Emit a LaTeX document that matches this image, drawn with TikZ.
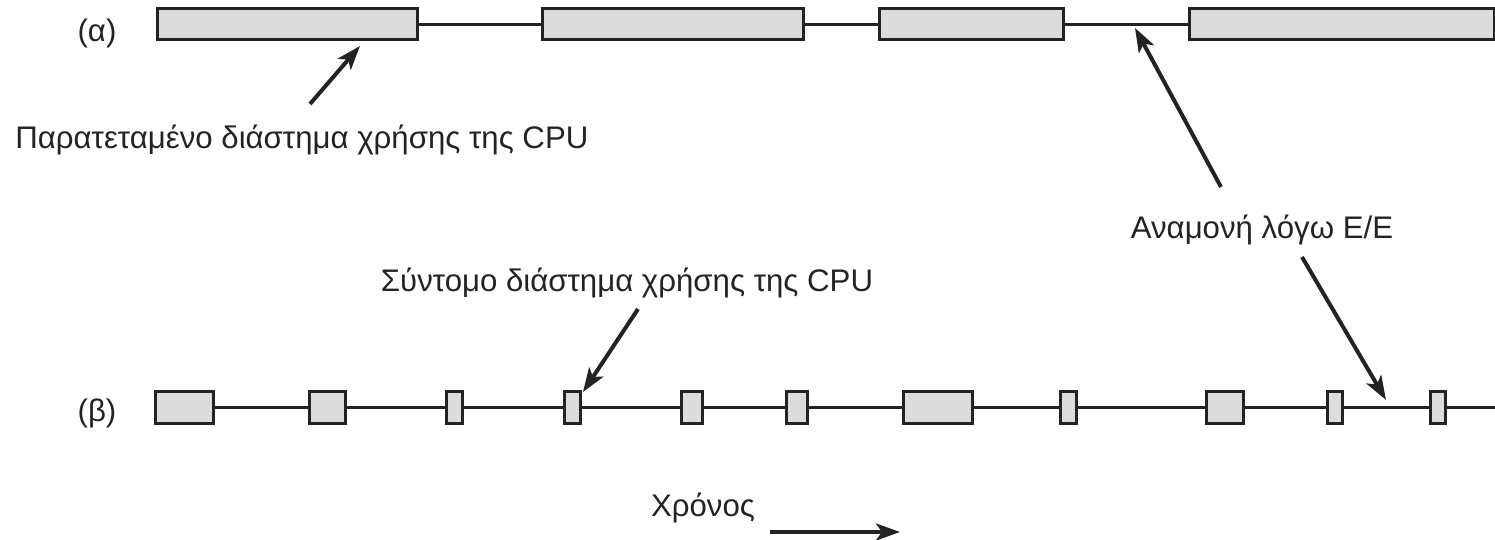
\documentclass[tikz,border=0pt]{standalone}
\usepackage{fontspec}
\setmainfont{Liberation Sans}
\usetikzlibrary{arrows.meta}
\definecolor{boxfill}{HTML}{DCDCDC}
\definecolor{ink}{HTML}{232323}
\begin{document}
\begin{tikzpicture}[x=0.5pt,y=-0.5pt,
  burst/.style={draw=ink, fill=boxfill, line width=1.5pt, inner sep=0pt, outer sep=0pt},
  aburst/.style={burst, minimum height=15.5pt},
  bburst/.style={burst, minimum height=16pt},
  wait/.style={draw=ink, line width=1.3pt},
  annot/.style={draw=ink, line width=2pt, -{Stealth[length=12pt,width=8.5pt,inset=3pt]}},
  lbl/.style={text=ink, inner sep=0pt, font=\fontsize{15.6}{18}\selectfont}]
\useasboundingbox (0,0) rectangle (1495,540);
% row (a)
\node[aburst, minimum width=130pt]   (a1) at (287,24.5) {};
\node[aburst, minimum width=130.5pt] (a2) at (672.5,24.5) {};
\node[aburst, minimum width=92pt]    (a3) at (971,24.5) {};
\node[aburst, minimum width=152.5pt] (a4) at (1341.5,24.5) {};
\draw[wait] (a1.east) -- (a2.west);
\draw[wait] (a2.east) -- (a3.west);
\draw[wait] (a3.east) -- (a4.west);
% row (b)
\node[bburst, minimum width=29pt]   (b1) at (184,407.5) {};
\node[bburst, minimum width=18pt]   (b2) at (327,407.5) {};
\node[bburst, minimum width=8pt]    (b3) at (454,407.5) {};
\node[bburst, minimum width=8pt]    (b4) at (572,407.5) {};
\node[bburst, minimum width=10.5pt] (b5) at (691.5,407.5) {};
\node[bburst, minimum width=10.5pt] (b6) at (796.5,407.5) {};
\node[bburst, minimum width=34.5pt] (b7) at (937.5,407.5) {};
\node[bburst, minimum width=8pt]    (b8) at (1068,407.5) {};
\node[bburst, minimum width=18.5pt] (b9) at (1224.5,407.5) {};
\node[bburst, minimum width=7.5pt]  (b10) at (1334.5,407.5) {};
\node[bburst, minimum width=7.5pt]  (b11) at (1437.5,407.5) {};
\coordinate (bend) at (1495,407.5);
\foreach \i/\j in {b1/b2,b2/b3,b3/b4,b4/b5,b5/b6,b6/b7,b7/b8,b8/b9,b9/b10,b10/b11}
  \draw[wait] (\i.east) -- (\j.west);
\draw[wait] (b11.east) -- (bend);
% labels
\node[lbl] (la) at (97,33) {(α)};
\node[lbl] (lb) at (97,413) {(β)};
\node[lbl, anchor=west] (t1) at (15,140) {Παρατεταμένο διάστημα χρήσης της CPU};
\node[lbl] (t2) at (1262,230) {Αναμονή λόγω Ε/Ε};
\node[lbl] (t3) at (627,283) {Σύντομο διάστημα χρήσης της CPU};
\node[lbl] (t4) at (703,508) {Χρόνος};
% annotation arrows
\coordinate (p1s) at (310,104);
\coordinate (p1e) at (360,46);
\coordinate (p2s) at (1221,187);
\coordinate (p2e) at (1135,28);
\coordinate (p3s) at (1302,257);
\coordinate (p3e) at (1386,400);
\coordinate (p4s) at (638,309);
\coordinate (p4e) at (583,392);
\coordinate (p5s) at (770,532);
\coordinate (p5e) at (900,532);
\draw[annot] (p1s) -- (p1e);
\draw[annot] (p2s) -- (p2e);
\draw[annot] (p3s) -- (p3e);
\draw[annot] (p4s) -- (p4e);
\draw[annot] (p5s) -- (p5e);
\end{tikzpicture}
\end{document}
